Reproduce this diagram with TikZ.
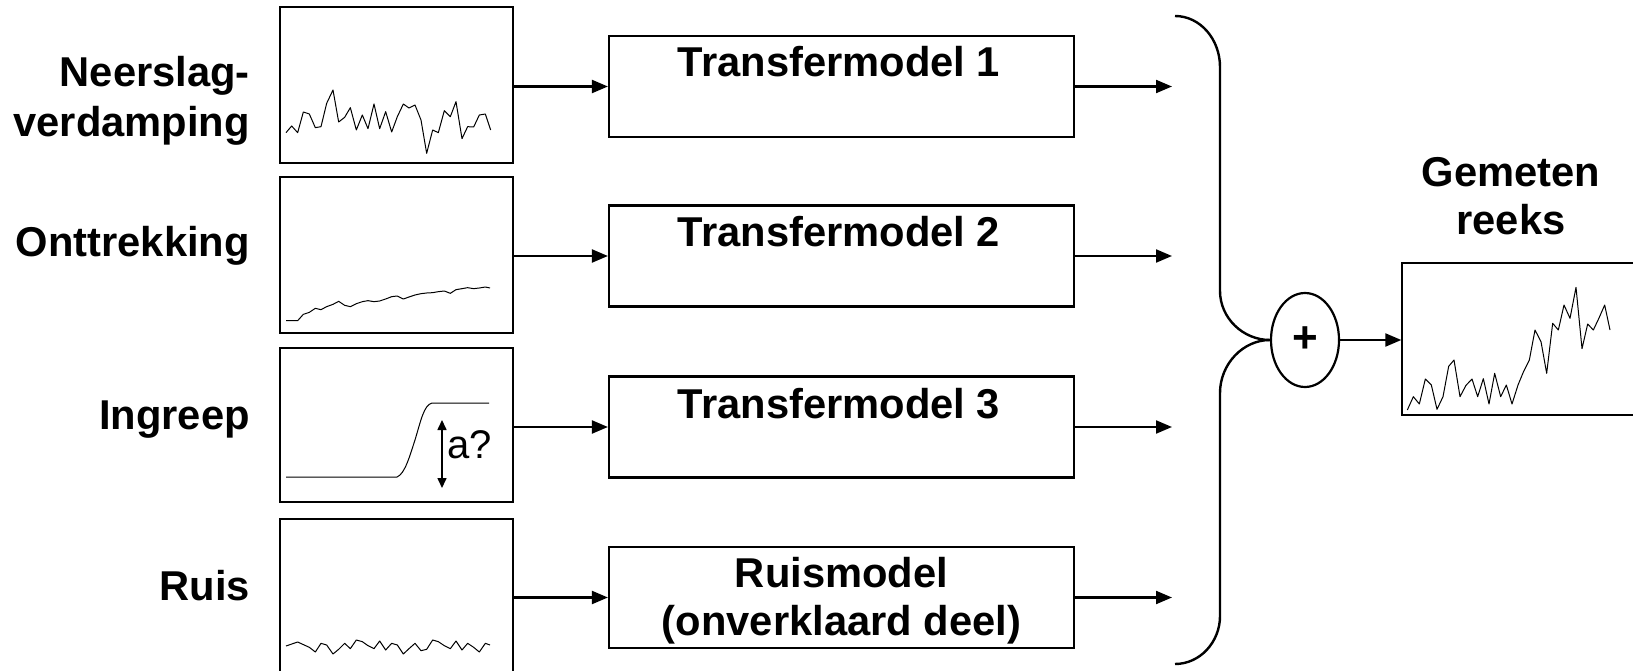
\documentclass[tikz,border=0pt]{standalone}
\usepackage{fontspec}
\setmainfont{Liberation Sans}
\usetikzlibrary{arrows.meta,shapes.geometric}
\begin{document}
\begin{tikzpicture}[x=1pt,y=-1pt,
  lbl/.style={font=\fontsize{41.7}{48}\selectfont\bfseries, inner sep=0pt},
  tbox/.style={draw, line width=2.2pt, minimum width=465pt, minimum height=101pt, inner sep=0pt},
  pbox/.style={draw, line width=1.4pt, minimum width=233pt, inner sep=0pt},
  arr/.style={line width=2.1pt, -{Triangle[length=16pt,width=13pt]}},
  dataline/.style={line width=1pt, line join=round},
  brace/.style={line width=2.4pt}]
\clip (0,0) rectangle (1633,671);
\fill[white] (0,0) rectangle (1633,671);

% left labels
\node[lbl, anchor=base east] (l1a) at (250,87) {Neerslag-};
\node[lbl, anchor=base east] (l1b) at (250,137) {verdamping};
\node[lbl, anchor=base east] (l2) at (250,256) {Onttrekking};
\node[lbl, anchor=base east] (l3) at (250,429) {Ingreep};
\node[lbl, anchor=base east] (l4) at (250,600) {Ruis};

% plot boxes
\node[pbox, minimum height=156pt] (p1) at (396.5,85) {};
\node[pbox, minimum height=156pt] (p2) at (396.5,255) {};
\node[pbox, minimum height=154pt] (p3) at (396.5,425) {};
\node[pbox, minimum height=200pt] (p4) at (396.5,619) {};

% plot 1 data
\begin{scope}[shift={(270,0)},scale=0.33333]
\draw[dataline] (48,398)--(65,378)--(83,398)--(100,336)--(118,342)--(136,383)--(153,380)--(170,310)--(189,270)--(206,366)--(224,352)--(241,323)--(259,390)--(277,345)--(294,386)--(312,312)--(329,386)--(347,335)--(365,396)--(382,350)--(400,312)--(417,324)--(435,315)--(453,360)--(470,460)--(488,390)--(505,398)--(523,332)--(541,350)--(558,305)--(576,416)--(593,380)--(611,381)--(628,345)--(646,342)--(662,390);
\end{scope}
% plot 2 data
\begin{scope}[shift={(270,170)},scale=0.33333]
\draw[dataline] (48,452)--(83,452)--(100,433)--(118,427)--(136,415)--(153,419)--(170,410)--(189,403)--(206,394)--(224,406)--(241,410)--(259,401)--(277,395)--(294,392)--(312,395)--(329,393)--(347,387)--(365,380)--(382,378)--(400,387)--(417,381)--(435,375)--(453,371)--(470,369)--(488,368)--(505,365)--(523,363)--(541,370)--(558,359)--(576,356)--(593,353)--(611,356)--(628,354)--(646,351)--(660,354);
\end{scope}
% plot 3 data
\draw[dataline] (286,477) -- (397,477) .. controls (405,474) and (410,455) .. (415,440) .. controls (421,420) and (424,405) .. (432,403) -- (489,403);
\coordinate (a3top) at (442,420);
\coordinate (a3bot) at (442,488);
\draw[line width=1.6pt, {Triangle[length=10pt,width=9pt]}-{Triangle[length=10pt,width=9pt]}] (a3top) -- (a3bot);
\node[font=\fontsize{40}{44}\selectfont, inner sep=0pt, anchor=base west] (aq) at (447,458) {a?};
% plot 4 data
\begin{scope}[shift={(270,510)},scale=0.33333]
\draw[dataline] (48,408)--(83,396)--(118,412)--(136,426)--(153,400)--(170,405)--(189,432)--(206,418)--(224,400)--(241,416)--(259,390)--(277,395)--(294,407)--(312,416)--(329,393)--(347,420)--(365,400)--(382,405)--(400,432)--(417,416)--(435,400)--(453,422)--(470,418)--(488,390)--(505,395)--(523,407)--(541,416)--(558,393)--(576,420)--(593,400)--(611,412)--(628,426)--(646,400)--(660,405);
\end{scope}

% transfer boxes
\node[tbox] (t1) at (841.5,86.5) {};
\node[tbox] (t2) at (841.5,256) {};
\node[tbox] (t3) at (841.5,427) {};
\node[tbox] (t4) at (841.5,597.5) {};
\node[lbl, anchor=base] (t1txt) at (839,77) {Transfermodel 1};
\node[lbl, anchor=base] (t2txt) at (839,247) {Transfermodel 2};
\node[lbl, anchor=base] (t3txt) at (839,418) {Transfermodel 3};
\node[lbl, anchor=base] (t4a) at (841.5,587) {Ruismodel};
\node[lbl, anchor=base] (t4b) at (841.5,635) {(onverklaard deel)};

% input arrows
\draw[arr] (p1.east |- t1.west) -- (t1.west);
\draw[arr] (p2.east |- t2.west) -- (t2.west);
\draw[arr] (p3.east |- t3.west) -- (t3.west);
\draw[arr] (p4.east |- t4.west) -- (t4.west);

% output arrow ends
\coordinate (o1) at (1172,86.5);
\coordinate (o2) at (1172,256);
\coordinate (o3) at (1172,427);
\coordinate (o4) at (1172,597.5);
\draw[arr] (t1.east) -- (o1);
\draw[arr] (t2.east) -- (o2);
\draw[arr] (t3.east) -- (o3);
\draw[arr] (t4.east) -- (o4);

% summation
\node[ellipse, draw, line width=2.2pt, minimum width=68pt, minimum height=94pt, inner sep=0pt,
      font=\fontsize{44}{46}\selectfont\bfseries] (plus) at (1305,340) {+};

% brace
\coordinate (btop) at (1175,16);
\coordinate (bbot) at (1175,664);
\draw[brace] (btop) .. controls (1200,16) and (1220,39) .. (1220,67) -- (1220,291)
   .. controls (1220,318) and (1243,340) .. (plus.west);
\draw[brace] (plus.west) .. controls (1243,340) and (1220,364) .. (1220,393) -- (1220,616)
   .. controls (1220,642) and (1200,664) .. (bbot);

% measured series
\node[lbl, anchor=base] (g1) at (1511,187) {Gemeten};
\node[lbl, anchor=base] (g2) at (1511,235) {reeks};
\node[pbox, minimum width=250pt, minimum height=152pt] (gbox) at (1527,339) {};
\draw[arr] (plus.east) -- (gbox.west |- plus.east);
\begin{scope}[shift={(1390,250)},scale=0.33333]
\draw[dataline] (52,480)--(70,440)--(88,462)--(106,387)--(124,405)--(141,478)--(159,440)--(176,349)--(192,330)--(210,440)--(228,406)--(246,387)--(263,440)--(280,386)--(297,462)--(314,370)--(332,440)--(349,405)--(366,462)--(384,405)--(401,364)--(418,330)--(435,240)--(453,275)--(470,370)--(488,220)--(505,240)--(522,165)--(540,205)--(558,112)--(576,296)--(593,222)--(610,240)--(627,204)--(644,165)--(660,240);
\end{scope}
\end{tikzpicture}
\end{document}
